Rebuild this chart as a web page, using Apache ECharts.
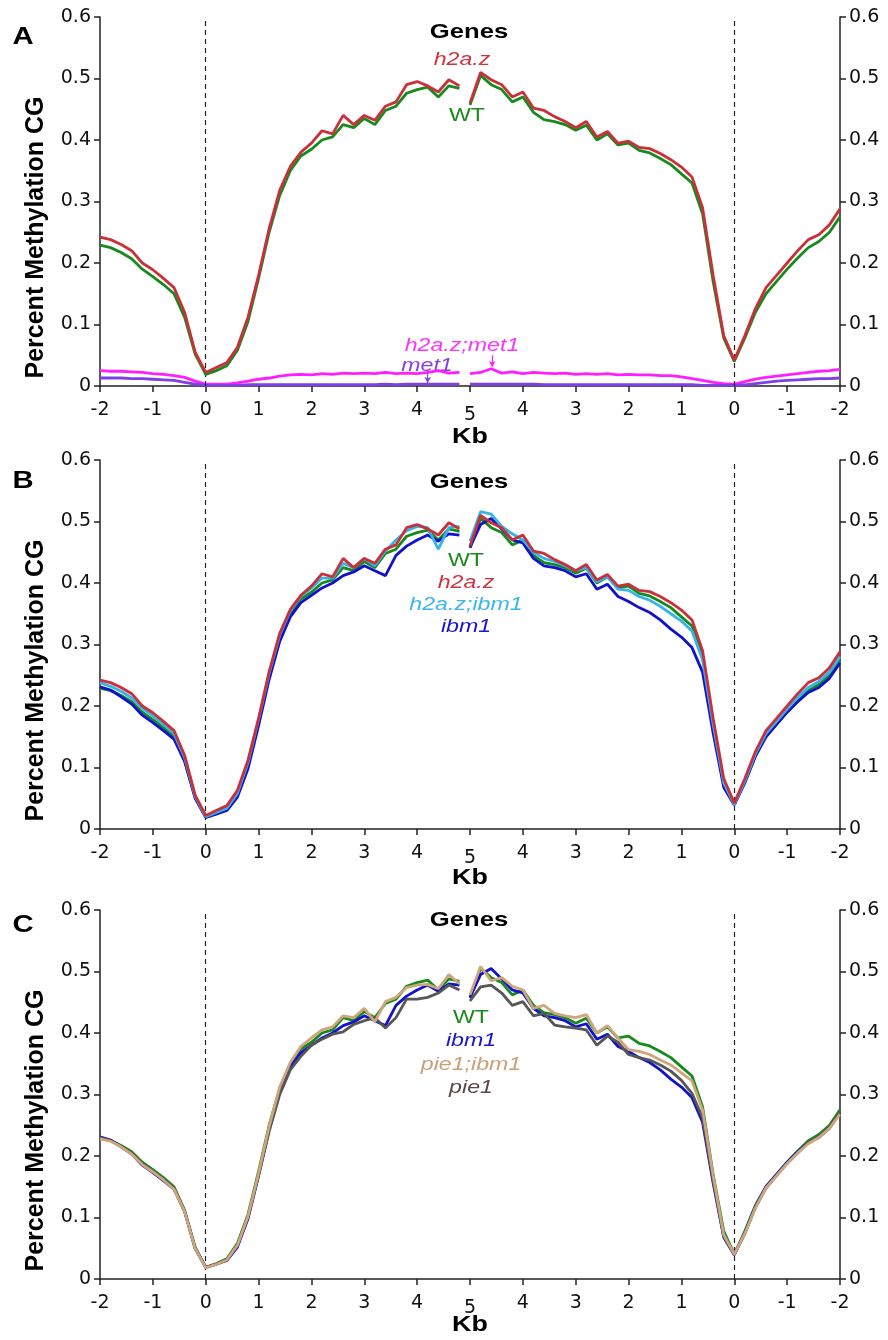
<!DOCTYPE html>
<html>
<head>
<meta charset="utf-8">
<script src="https://cdn.jsdelivr.net/npm/echarts@6/dist/echarts.min.js"></script>
<style>
html, body { margin: 0; background: #fff; }
#chart { width: 888px; height: 1340px; }
</style>
</head>
<body>
<div id="chart"></div>
<script>
// x tick labels, kb: upstream -2..0, gene body 0..5 | 5..0, downstream 0..-2
var tickLabels = ['-2', '-1', '0', '1', '2', '3', '4', '5', '4', '3', '2', '1', '0', '-1', '-2'];

// 35 bins before the gene midpoint, 36 bins after it (CG methylation fraction)
var WT = [
  0.229, 0.225, 0.217, 0.207, 0.190, 0.178, 0.165, 0.150, 0.112, 0.052,
  0.019, 0.025, 0.033, 0.058, 0.105, 0.175, 0.250, 0.310, 0.350, 0.374,
  0.385, 0.400, 0.405, 0.425, 0.420, 0.435, 0.425, 0.448, 0.455, 0.476,
  0.482, 0.486, 0.470, 0.488, 0.484,
  0.457, 0.505, 0.490, 0.482, 0.462, 0.470, 0.445, 0.433, 0.430, 0.425,
  0.416, 0.424, 0.400, 0.410, 0.392, 0.395, 0.383, 0.379, 0.370, 0.360,
  0.345, 0.330, 0.280, 0.170, 0.078, 0.040,
  0.078, 0.120, 0.150, 0.170, 0.190, 0.208, 0.225, 0.235, 0.250, 0.275
];
var h2az = [
  0.242, 0.238, 0.230, 0.220, 0.200, 0.189, 0.175, 0.160, 0.120, 0.055,
  0.022, 0.030, 0.038, 0.063, 0.112, 0.180, 0.256, 0.318, 0.357, 0.380,
  0.395, 0.415, 0.410, 0.440, 0.425, 0.440, 0.432, 0.455, 0.462, 0.490,
  0.495, 0.488, 0.478, 0.498, 0.488,
  0.460, 0.510, 0.498, 0.490, 0.470, 0.478, 0.452, 0.448, 0.438, 0.430,
  0.420, 0.430, 0.405, 0.414, 0.395, 0.398, 0.388, 0.386, 0.378, 0.368,
  0.356, 0.340, 0.290, 0.180, 0.082, 0.042,
  0.082, 0.126, 0.160, 0.180, 0.200, 0.220, 0.238, 0.246, 0.262, 0.288
];
var h2azMet1 = [
  0.025, 0.024, 0.024, 0.023, 0.022, 0.020, 0.019, 0.017, 0.014, 0.008,
  0.003, 0.003, 0.003, 0.005, 0.008, 0.011, 0.013, 0.016, 0.018, 0.019,
  0.018, 0.020, 0.019, 0.021, 0.020, 0.021, 0.020, 0.022, 0.020, 0.021,
  0.020, 0.022, 0.025, 0.021, 0.022,
  0.020, 0.022, 0.028, 0.021, 0.023, 0.020, 0.022, 0.021, 0.020, 0.021,
  0.019, 0.020, 0.019, 0.020, 0.018, 0.019, 0.018, 0.018, 0.017, 0.017,
  0.015, 0.012, 0.009, 0.006, 0.004, 0.003,
  0.007, 0.011, 0.014, 0.016, 0.018, 0.020, 0.022, 0.024, 0.025, 0.027
];
var met1 = [
  0.013, 0.013, 0.013, 0.012, 0.012, 0.011, 0.010, 0.009, 0.006, 0.003,
  0.001, 0.001, 0.001, 0.001, 0.002, 0.002, 0.002, 0.002, 0.002, 0.002,
  0.002, 0.002, 0.002, 0.002, 0.002, 0.002, 0.002, 0.003, 0.002, 0.003,
  0.003, 0.003, 0.003, 0.003, 0.003,
  0.003, 0.003, 0.003, 0.003, 0.003, 0.003, 0.003, 0.002, 0.002, 0.002,
  0.002, 0.002, 0.002, 0.002, 0.002, 0.002, 0.002, 0.002, 0.002, 0.002,
  0.002, 0.002, 0.001, 0.001, 0.001, 0.001,
  0.002, 0.004, 0.006, 0.008, 0.009, 0.010, 0.011, 0.012, 0.012, 0.013
];
var ibm1 = [
  0.231, 0.226, 0.215, 0.203, 0.185, 0.173, 0.160, 0.146, 0.110, 0.050,
  0.019, 0.024, 0.030, 0.052, 0.098, 0.168, 0.243, 0.305, 0.345, 0.368,
  0.380, 0.392, 0.400, 0.412, 0.418, 0.428, 0.420, 0.412, 0.445, 0.460,
  0.470, 0.478, 0.468, 0.480, 0.478,
  0.458, 0.495, 0.505, 0.488, 0.470, 0.465, 0.440, 0.428, 0.425, 0.420,
  0.410, 0.415, 0.390, 0.398, 0.378, 0.370, 0.360, 0.352, 0.340, 0.325,
  0.312, 0.295, 0.255, 0.156, 0.068, 0.039,
  0.075, 0.118, 0.150, 0.170, 0.190, 0.207, 0.222, 0.230, 0.245, 0.270
];
var h2azIbm1 = [
  0.238, 0.232, 0.224, 0.213, 0.196, 0.184, 0.170, 0.155, 0.116, 0.053,
  0.020, 0.027, 0.034, 0.058, 0.108, 0.178, 0.253, 0.315, 0.355, 0.378,
  0.392, 0.408, 0.408, 0.432, 0.425, 0.440, 0.428, 0.452, 0.470, 0.485,
  0.492, 0.490, 0.455, 0.490, 0.492,
  0.468, 0.516, 0.512, 0.492, 0.480, 0.470, 0.450, 0.440, 0.435, 0.428,
  0.420, 0.425, 0.402, 0.410, 0.390, 0.388, 0.378, 0.372, 0.362, 0.350,
  0.338, 0.322, 0.275, 0.170, 0.075, 0.040,
  0.078, 0.122, 0.155, 0.175, 0.195, 0.214, 0.230, 0.240, 0.255, 0.280
];
var pie1Ibm1 = [
  0.228, 0.224, 0.215, 0.203, 0.186, 0.174, 0.161, 0.146, 0.110, 0.050,
  0.018, 0.024, 0.031, 0.055, 0.102, 0.172, 0.248, 0.312, 0.352, 0.378,
  0.392, 0.405, 0.410, 0.428, 0.425, 0.440, 0.418, 0.451, 0.458, 0.474,
  0.478, 0.479, 0.472, 0.495, 0.480,
  0.462, 0.508, 0.485, 0.490, 0.476, 0.470, 0.440, 0.445, 0.432, 0.428,
  0.425, 0.430, 0.400, 0.412, 0.392, 0.373, 0.370, 0.365, 0.356, 0.348,
  0.335, 0.322, 0.275, 0.168, 0.072, 0.040,
  0.074, 0.116, 0.148, 0.168, 0.188, 0.205, 0.220, 0.230, 0.245, 0.268
];
var pie1 = [
  0.230, 0.225, 0.216, 0.205, 0.188, 0.175, 0.162, 0.148, 0.110, 0.050,
  0.019, 0.024, 0.031, 0.055, 0.100, 0.168, 0.240, 0.300, 0.340, 0.362,
  0.380, 0.390, 0.398, 0.402, 0.414, 0.420, 0.425, 0.408, 0.425, 0.455,
  0.455, 0.458, 0.465, 0.478, 0.470,
  0.452, 0.475, 0.478, 0.465, 0.445, 0.451, 0.428, 0.432, 0.413, 0.410,
  0.408, 0.405, 0.380, 0.395, 0.385, 0.365, 0.360, 0.356, 0.348, 0.338,
  0.323, 0.302, 0.262, 0.160, 0.070, 0.041,
  0.074, 0.116, 0.148, 0.168, 0.188, 0.205, 0.222, 0.232, 0.247, 0.272
];

var FONT = '"Liberation Sans", Arial, sans-serif';
var TICK_FONT = '"DejaVu Sans", sans-serif';
var colors = {
  WT: '#178a1e', h2az: '#c9303a', h2azMet1: '#ff1eff', met1: '#7d3fe6',
  ibm1: '#1212cc', h2azIbm1: '#36b4e8', pie1Ibm1: '#cfa57b', pie1: '#565656'
};

// bin position on the 0..14 tick axis; a gap is left at the gene midpoint
function toPairs(vals) {
  var out = [];
  for (var i = 0; i < 35; i++) out.push([i * 0.2, vals[i]]);
  out.push([6.9, '-']);
  for (var j = 0; j < 36; j++) out.push([7 + j * 0.2, vals[35 + j]]);
  return out;
}

var panels = [
  { top: 17, letter: 'A', letterDy: 20, genesDy: 15, kbDy: 51, lines: [
      ['h2a.z;met1', h2azMet1, colors.h2azMet1],
      ['met1', met1, colors.met1],
      ['WT', WT, colors.WT],
      ['h2a.z', h2az, colors.h2az]
    ] },
  { top: 460, letter: 'B', letterDy: 21, genesDy: 22, kbDy: 49, lines: [
      ['WT', WT, colors.WT],
      ['ibm1', ibm1, colors.ibm1],
      ['h2a.z;ibm1', h2azIbm1, colors.h2azIbm1],
      ['h2a.z', h2az, colors.h2az]
    ] },
  { top: 910, letter: 'C', letterDy: 15, genesDy: 10, kbDy: 46, lines: [
      ['WT', WT, colors.WT],
      ['ibm1', ibm1, colors.ibm1],
      ['pie1', pie1, colors.pie1],
      ['pie1;ibm1', pie1Ibm1, colors.pie1Ibm1]
    ] }
];

var PLOT_H = 369;
var grids = [], xAxes = [], yAxes = [], series = [], graphics = [];

function txt(text, x, y, font, color, rot) {
  graphics.push({
    type: 'text', x: x, y: y, rotation: rot || 0,
    scaleX: rot ? 1 : 1.22,
    style: { text: text, font: font, fill: color, align: 'center', verticalAlign: 'middle' }
  });
}

panels.forEach(function (p, k) {
  grids.push({ left: 100, width: 740, top: p.top, height: PLOT_H, outerBoundsMode: 'none' });
  xAxes.push({
    type: 'value', gridIndex: k, min: 0, max: 14, interval: 1,
    axisLine: { lineStyle: { color: '#222', width: 1.5 } },
    axisTick: { length: 6, lineStyle: { color: '#222', width: 1.5 } },
    splitLine: { show: false },
    axisLabel: {
      margin: 15, fontSize: 19, fontFamily: TICK_FONT, color: '#111',
      formatter: function (v) {
        var s = tickLabels[Math.round(v)];
        return Math.round(v) === 7 ? '{low|' + s + '}' : s;
      },
      rich: { low: { fontSize: 19, fontFamily: TICK_FONT, color: '#111', padding: [5, 0, 0, 0] } }
    }
  });
  ['left', 'right'].forEach(function (pos) {
    yAxes.push({
      type: 'value', gridIndex: k, position: pos, min: 0, max: 0.6, interval: 0.1,
      axisLine: { show: true, lineStyle: { color: '#222', width: 1.5 } },
      axisTick: { show: true, length: 6, lineStyle: { color: '#222', width: 1.5 } },
      splitLine: { show: false },
      axisLabel: { margin: 9, fontSize: 19, fontFamily: TICK_FONT, color: '#111' }
    });
  });

  p.lines.forEach(function (l, n) {
    var s = {
      name: l[0], type: 'line', xAxisIndex: k, yAxisIndex: k * 2,
      data: toPairs(l[1]), showSymbol: false, connectNulls: false,
      lineStyle: { color: l[2], width: 2.8 }, itemStyle: { color: l[2] },
      silent: true, animation: false, z: 3 + n
    };
    if (n === 0) {
      s.markLine = {
        silent: true, symbol: ['none', 'none'], label: { show: false },
        lineStyle: { color: '#222', type: [5, 4], width: 1.2 },
        data: [{ xAxis: 2 }, { xAxis: 12 }]
      };
    }
    series.push(s);
  });

  var top = p.top;
  txt(p.letter, 23, top + p.letterDy, 'bold 24px ' + FONT, '#000');
  txt('Genes', 469, top + p.genesDy, 'bold 21px ' + FONT, '#000');
  txt('Kb', 470, top + PLOT_H + p.kbDy, 'bold 22px ' + FONT, '#000');
  txt('Percent Methylation CG', 36, top + PLOT_H / 2 + 36, 'bold 25px ' + FONT, '#000', Math.PI / 2);
});

// arrows pointing at the two low lines in panel A
series[1].markLine = {
  silent: true, symbol: ['none', 'arrow'], symbolSize: [5, 6], label: { show: false },
  lineStyle: { color: colors.met1, type: 'solid', width: 1.2 },
  data: [[{ coord: [6.2, 0.022] }, { coord: [6.2, 0.005] }]]
};
series[0].markLine.data.push([
  { coord: [7.42, 0.050], symbol: 'none', lineStyle: { color: colors.h2azMet1, type: 'solid', width: 1.2 } },
  { coord: [7.42, 0.031], symbol: 'arrow', symbolSize: [5, 6] }
]);

txt('h2a.z', 462, 60, 'italic 19px ' + FONT, '#cf333d');
txt('WT', 467, 116, '19px ' + FONT, '#1a8a1a');
txt('h2a.z;met1', 462, 346, 'italic 19px ' + FONT, '#ff33ff');
txt('met1', 427, 366, 'italic 19px ' + FONT, '#8640e8');

txt('WT', 466, 561, '19px ' + FONT, '#1a8a1a');
txt('h2a.z', 466, 583, 'italic 19px ' + FONT, '#cf333d');
txt('h2a.z;ibm1', 466, 605, 'italic 19px ' + FONT, '#3ab6ea');
txt('ibm1', 466, 627, 'italic 19px ' + FONT, '#1515cc');

txt('WT', 471, 1018, '19px ' + FONT, '#1a8a1a');
txt('ibm1', 471, 1041, 'italic 19px ' + FONT, '#1515cc');
txt('pie1;ibm1', 471, 1065, 'italic 19px ' + FONT, '#c9a07a');
txt('pie1', 471, 1088, 'italic 19px ' + FONT, '#5a4848');

var myChart = echarts.init(document.getElementById('chart'), null, { renderer: 'canvas' });
myChart.setOption({
  backgroundColor: '#fff',
  animation: false,
  grid: grids,
  xAxis: xAxes,
  yAxis: yAxes,
  series: series,
  graphic: graphics
});
</script>
</body>
</html>
